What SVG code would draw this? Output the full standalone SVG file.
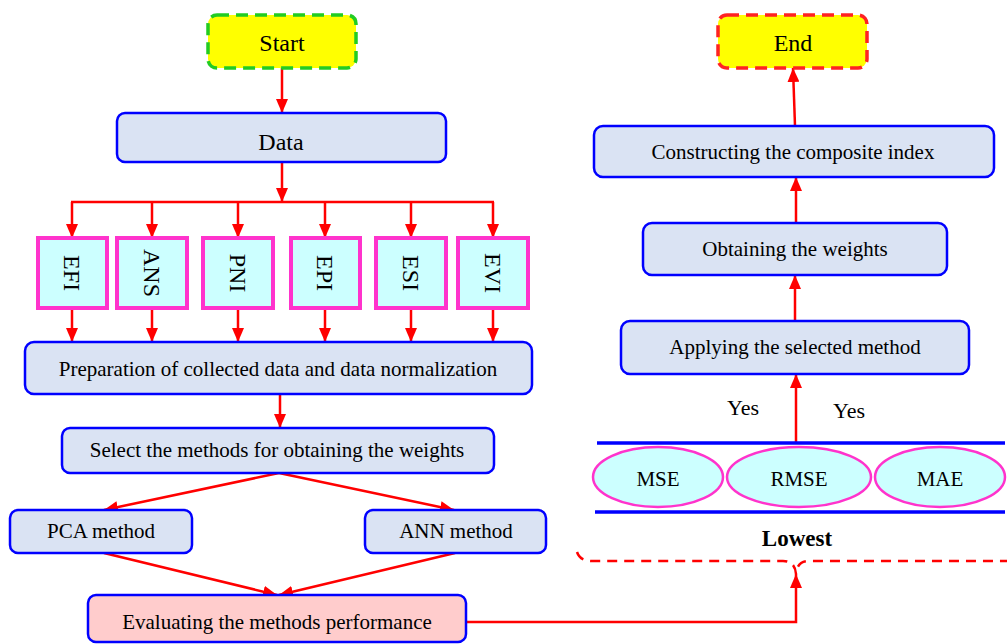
<svg xmlns="http://www.w3.org/2000/svg" width="1007" height="644" viewBox="0 0 1007 644">
<style>
.box{fill:#DAE3F3;stroke:#0000FF;stroke-width:2.5}
.ind{fill:#CCFFFF;stroke:#FF33CC;stroke-width:4}
.ell{fill:#CCFFFF;stroke:#FF33CC;stroke-width:2.5}
.t{font-family:"Liberation Serif","Times New Roman",serif;font-size:21px;fill:#000;text-anchor:middle;dominant-baseline:central}
.big{font-size:24px}
.c{fill:none;stroke:#FF0000;stroke-width:2.5}
.bl{stroke:#0000FF;stroke-width:3.5}
</style>
<defs>
<marker id="ah" markerUnits="userSpaceOnUse" markerWidth="14" markerHeight="12" refX="14" refY="6" orient="auto" viewBox="0 0 14 12">
<path d="M0,0 L14,6 L0,12 z" fill="#FF0000"/>
</marker>
</defs>
<g id="connectors">
<path class="c" d="M282 68 L282 113" marker-end="url(#ah)"/>
<path class="c" d="M282 162 L282 202" marker-end="url(#ah)"/>
<path class="c" d="M71 202 L494 202"/>
<path class="c" d="M72 202 L72 238" marker-end="url(#ah)"/>
<path class="c" d="M152 202 L152 238" marker-end="url(#ah)"/>
<path class="c" d="M238 202 L238 238" marker-end="url(#ah)"/>
<path class="c" d="M325 202 L325 238" marker-end="url(#ah)"/>
<path class="c" d="M411 202 L411 238" marker-end="url(#ah)"/>
<path class="c" d="M493 202 L493 238" marker-end="url(#ah)"/>
<path class="c" d="M72 308 L72 342" marker-end="url(#ah)"/>
<path class="c" d="M152 308 L152 342" marker-end="url(#ah)"/>
<path class="c" d="M238 308 L238 342" marker-end="url(#ah)"/>
<path class="c" d="M325 308 L325 342" marker-end="url(#ah)"/>
<path class="c" d="M411 308 L411 342" marker-end="url(#ah)"/>
<path class="c" d="M493 308 L493 342" marker-end="url(#ah)"/>
<path class="c" d="M280 394 L280 428" marker-end="url(#ah)"/>
<path class="c" d="M279 473 L104 510" marker-end="url(#ah)"/>
<path class="c" d="M279 473 L454 510" marker-end="url(#ah)"/>
<path class="c" d="M104 553 L277 595" marker-end="url(#ah)"/>
<path class="c" d="M455 553 L279 595" marker-end="url(#ah)"/>
<path class="c" d="M466 622 L796 622 L796 574" marker-end="url(#ah)"/>
<path class="c" d="M796 443 L796 374" marker-end="url(#ah)"/>
<path class="c" d="M795 321 L795 275" marker-end="url(#ah)"/>
<path class="c" d="M796 223 L796 177" marker-end="url(#ah)"/>
<path class="c" d="M795 126 L793 68" marker-end="url(#ah)"/>
<path class="c" d="M577 552 Q580 561 592 561 L783 561 Q795 561 796 574 Q797 561 809 561 L1007 561" stroke-dasharray="10,7"/>
</g>
<g id="start">
<rect x="208" y="15" width="148" height="53" rx="9" fill="#FFFF00" stroke="#22CC22" stroke-width="3.5" stroke-dasharray="12,7"/>
<text class="t big" x="282" y="43">Start</text>
</g>
<g id="data">
<rect class="box" x="117" y="113" width="329" height="49" rx="8"/>
<text class="t big" x="281" y="142">Data</text>
</g>
<g id="efi"><rect class="ind" x="38" y="238" width="69" height="70"/><text class="t big" transform="translate(72 273) rotate(90)">EFI</text></g>
<g id="ans"><rect class="ind" x="117" y="238" width="70" height="70"/><text class="t big" transform="translate(152 273) rotate(90)">ANS</text></g>
<g id="pni"><rect class="ind" x="203" y="238" width="70" height="70"/><text class="t big" transform="translate(238 273) rotate(90)">PNI</text></g>
<g id="epi"><rect class="ind" x="291" y="238" width="69" height="70"/><text class="t big" transform="translate(325 273) rotate(90)">EPI</text></g>
<g id="esi"><rect class="ind" x="376" y="238" width="70" height="70"/><text class="t big" transform="translate(411 273) rotate(90)">ESI</text></g>
<g id="evi"><rect class="ind" x="458" y="238" width="70" height="70"/><text class="t big" transform="translate(493 273) rotate(90)">EVI</text></g>
<g id="prep">
<rect class="box" x="25" y="342" width="507" height="52" rx="9"/>
<text class="t" x="278" y="369">Preparation of collected data and data normalization</text>
</g>
<g id="select">
<rect class="box" x="62" y="428" width="432" height="45" rx="8"/>
<text class="t" x="277" y="450">Select the methods for obtaining the weights</text>
</g>
<g id="pca">
<rect class="box" x="10" y="510" width="182" height="43" rx="8"/>
<text class="t" x="101" y="531">PCA method</text>
</g>
<g id="ann">
<rect class="box" x="365" y="510" width="181" height="43" rx="8"/>
<text class="t" x="456" y="531">ANN method</text>
</g>
<g id="eval">
<rect x="88" y="595" width="378" height="47" rx="8" fill="#FFCCCC" stroke="#0000FF" stroke-width="2.5"/>
<text class="t" x="277" y="622">Evaluating the methods performance</text>
</g>
<g id="metrics">
<line class="bl" x1="597" y1="443" x2="1005" y2="443"/>
<line class="bl" x1="595" y1="512" x2="1005" y2="512"/>
<ellipse class="ell" cx="658" cy="477" rx="65" ry="30"/>
<text class="t" x="658" y="479">MSE</text>
<ellipse class="ell" cx="799" cy="477" rx="72" ry="30"/>
<text class="t" x="799" y="479">RMSE</text>
<ellipse class="ell" cx="940" cy="477" rx="65" ry="30"/>
<text class="t" x="940" y="479">MAE</text>
<text class="t" x="797" y="538" style="font-weight:bold;font-size:23px">Lowest</text>
</g>
<g id="yes">
<text class="t" x="743" y="407" style="font-size:22px">Yes</text>
<text class="t" x="849" y="410" style="font-size:22px">Yes</text>
</g>
<g id="apply">
<rect class="box" x="621" y="321" width="348" height="53" rx="9"/>
<text class="t" x="795" y="347">Applying the selected method</text>
</g>
<g id="obtain">
<rect class="box" x="643" y="223" width="304" height="52" rx="9"/>
<text class="t" x="795" y="249">Obtaining the weights</text>
</g>
<g id="construct">
<rect class="box" x="594" y="126" width="400" height="51" rx="9"/>
<text class="t" x="793" y="152">Constructing the composite index</text>
</g>
<g id="end">
<rect x="718" y="15" width="149" height="53" rx="9" fill="#FFFF00" stroke="#FF2222" stroke-width="3.5" stroke-dasharray="12,7"/>
<text class="t big" x="793" y="43">End</text>
</g>
</svg>
